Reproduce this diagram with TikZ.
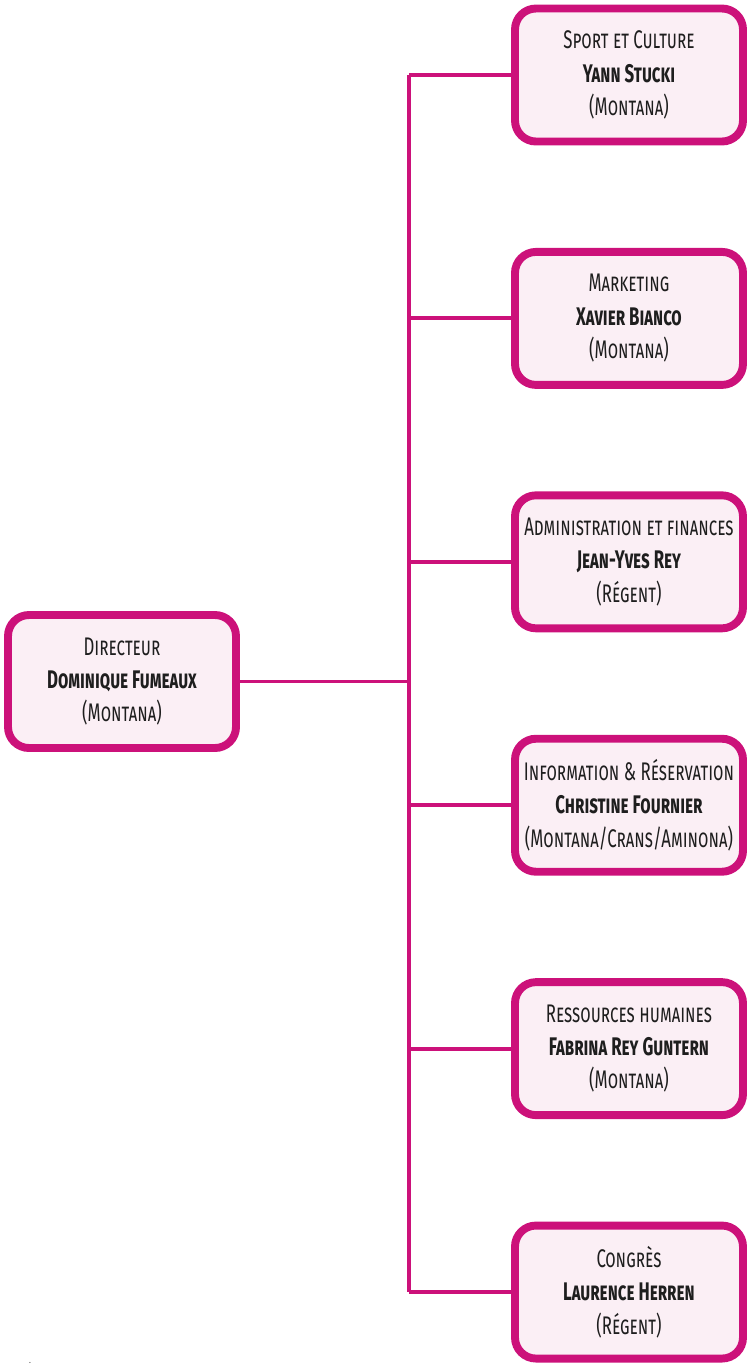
\documentclass[tikz,border=0pt]{standalone}
\usepackage{fontspec}
\setmainfont[FakeStretch=0.66]{Fira Sans}
\usetikzlibrary{positioning}

\definecolor{orgmagenta}{RGB}{204,17,122}
\definecolor{orgfill}{RGB}{251,239,245}
\definecolor{orgtext}{RGB}{30,30,30}

\tikzset{
  orgbox/.style = {draw=orgmagenta, fill=orgfill, line width=4.5pt, rounded corners=0.42cm,
    minimum width=4.56cm, minimum height=2.66cm, align=center, text=orgtext,
    font=\fontsize{14.5}{19}\selectfont, inner sep=2pt},
  link/.style = {draw=orgmagenta, line width=2.2pt},
}

\begin{document}
\begin{tikzpicture}[node distance=2.05cm]
\useasboundingbox (0,0) rectangle (14.98,-27.32);

\node[orgbox] (dir) at (2.44,-13.63) {\textsc{Directeur}\\ \textbf{\textsc{Dominique Fumeaux}}\\ \textsc{(Montana)}};

\node[orgbox] (sport) at (12.58,-1.5) {\textsc{Sport et Culture}\\ \textbf{\textsc{Yann Stucki}}\\ \textsc{(Montana)}};
\node[orgbox, below = of sport] (marketing) {\textsc{Marketing}\\ \textbf{\textsc{Xavier Bianco}}\\ \textsc{(Montana)}};
\node[orgbox, below = of marketing] (admin) {\textsc{Administration et finances}\\ \textbf{\textsc{Jean-Yves Rey}}\\ \textsc{(Régent)}};
\node[orgbox, below = of admin] (info) {\textsc{Information \& Réservation}\\ \textbf{\textsc{Christine Fournier}}\\ \textsc{(Montana/Crans/Aminona)}};
\node[orgbox, below = of info] (rh) {\textsc{Ressources humaines}\\ \textbf{\textsc{Fabrina Rey Guntern}}\\ \textsc{(Montana)}};
\node[orgbox, below = of rh] (congres) {\textsc{Congrès}\\ \textbf{\textsc{Laurence Herren}}\\ \textsc{(Régent)}};

\coordinate (spine) at (8.18,0);

% trunk
\draw[link] (spine |- sport.west) -- (spine |- congres.west);
\draw[link] (dir.east) -- (spine |- dir.east);
% branches
\foreach \b in {sport,marketing,admin,info,rh,congres}
  \draw[link] (spine |- \b.west) -- (\b.west);

\node[font=\tiny, inner sep=0pt] (dot) at (0.6,-27.26) {.};
\end{tikzpicture}
\end{document}
